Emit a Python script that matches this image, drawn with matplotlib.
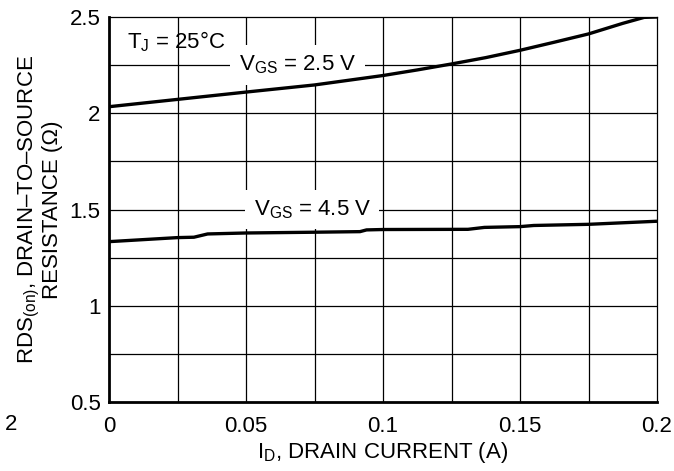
import matplotlib
matplotlib.use("Agg")
import matplotlib.pyplot as plt
import numpy as np

# drain current (A) vs on-resistance (ohm)
id_25 = [0.0, 0.025, 0.05, 0.075, 0.1, 0.1125, 0.125, 0.1375, 0.15, 0.1625,
         0.175, 0.1875, 0.1953, 0.2]
rds_25 = [2.034, 2.072, 2.110, 2.147, 2.196, 2.225, 2.256, 2.289, 2.327, 2.369,
          2.412, 2.467, 2.498, 2.5]

id_45 = [0.0, 0.025, 0.031, 0.036, 0.05, 0.075, 0.0916, 0.094, 0.1, 0.131,
         0.137, 0.15, 0.155, 0.175, 0.2]
rds_45 = [1.333, 1.354, 1.356, 1.373, 1.378, 1.382, 1.385, 1.394, 1.396, 1.397,
          1.407, 1.411, 1.417, 1.423, 1.439]

x_ticks = [0, 0.05, 0.1, 0.15, 0.2]
x_tick_labels = ["0", "0.05", "0.1", "0.15", "0.2"]
y_ticks = [0.5, 1, 1.5, 2, 2.5]
y_tick_labels = ["0.5", "1", "1.5", "2", "2.5"]

plt.rcParams["font.family"] = ["Liberation Sans", "DejaVu Sans"]
plt.rcParams["font.size"] = 16
plt.rcParams["mathtext.fontset"] = "custom"
plt.rcParams["mathtext.rm"] = "Liberation Sans"

fig = plt.figure(figsize=(6.74, 4.71), dpi=100)
ax = fig.add_axes([109 / 674, 1 - 402 / 471, (657 - 109) / 674, (402 - 17) / 471])

ax.set_xlim(0, 0.2)
ax.set_ylim(0.5, 2.5)

# grid: every 0.025 A and every 0.25 ohm
for gx in np.arange(0.025, 0.2, 0.025):
    ax.axvline(gx, color="black", lw=0.9, zorder=1)
for gy in np.arange(0.75, 2.5, 0.25):
    ax.axhline(gy, color="black", lw=0.9, zorder=1)

ax.plot(id_25, rds_25, color="black", lw=2.4, zorder=3, solid_capstyle="butt")
ax.plot(id_45, rds_45, color="black", lw=2.4, zorder=3, solid_capstyle="butt")

ax.set_xticks(x_ticks)
ax.set_xticklabels(x_tick_labels)
ax.set_yticks(y_ticks)
ax.set_yticklabels(y_tick_labels)
ax.tick_params(length=0)
ax.tick_params(axis="y", pad=6)
ax.tick_params(axis="x", pad=10)

for side in ("top", "right"):
    ax.spines[side].set_linewidth(0.9)
for side in ("left", "bottom"):
    ax.spines[side].set_linewidth(2.0)

ax.text(0.0066, 2.372, r"T$_\mathregular{J}$ = 25°C", ha="left", va="center")
ax.text(0.0688, 2.25, r"V$_\mathregular{GS}$ = 2.5 V", ha="center", va="center", zorder=2,
        bbox=dict(facecolor="white", edgecolor="none", pad=6))
ax.text(0.0742, 1.5, r"V$_\mathregular{GS}$ = 4.5 V", ha="center", va="center", zorder=2,
        bbox=dict(facecolor="white", edgecolor="none", pad=6))

ax.set_xlabel(r"I$_\mathregular{D}$, DRAIN CURRENT (A)", labelpad=2)
ax.set_ylabel("RDS$_\\mathregular{(on)}$, DRAIN–TO–SOURCE\nRESISTANCE (Ω)",
              linespacing=1.0, labelpad=5)

# stray tick label left over in the original scan
fig.text(5 / 674, 1 - 425 / 471, "2", ha="left", va="center")

fig.savefig("out.png", dpi=100)
